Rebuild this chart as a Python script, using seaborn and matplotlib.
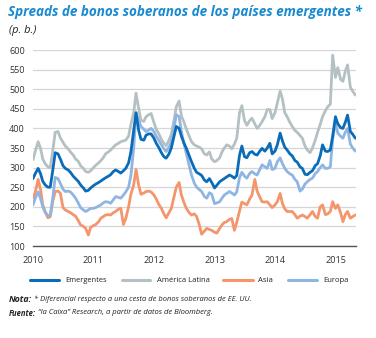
import numpy as np
import pandas as pd
import matplotlib
matplotlib.use("Agg")
import matplotlib.pyplot as plt
import matplotlib.dates as mdates
from matplotlib.lines import Line2D
import seaborn as sns

# semi-monthly observations (1st and 15th), Jan 2010 .. 1 May 2015
dates = pd.date_range("2010-01-01", "2015-05-01", freq="SMS")

emergentes = [
    272, 285, 298, 285, 265, 256, 250, 250, 295, 338, 335, 322, 305, 298, 294, 288, 278, 272, 265, 256, 248, 240, 242, 248,
    254, 258, 262, 266, 270, 274, 278, 282, 290, 294, 290, 286, 292, 298, 312, 340, 395, 440, 395, 372, 370, 383, 386, 386,
    375, 362, 350, 338, 328, 324, 335, 350, 380, 405, 400, 380, 362, 349, 330, 315, 298, 288, 284, 280, 268, 264, 272, 262,
    248, 255, 264, 268, 272, 276, 281, 278, 273, 280, 332, 355, 328, 325, 338, 341, 334, 332, 342, 349, 342, 350, 362, 335,
    342, 358, 388, 368, 352, 345, 335, 330, 318, 314, 302, 298, 283, 282, 288, 292, 305, 310, 330, 358, 342, 341, 345, 380,
    430, 412, 402, 400, 415, 434, 392, 385, 375]
america_latina = [
    320, 342, 366, 350, 322, 310, 302, 300, 345, 390, 392, 376, 365, 355, 348, 340, 332, 322, 316, 305, 298, 290, 288, 292,
    300, 306, 312, 318, 325, 335, 340, 345, 352, 358, 362, 366, 368, 370, 380, 410, 440, 490, 450, 420, 418, 430, 435, 438,
    415, 398, 385, 372, 362, 356, 370, 385, 420, 455, 470, 432, 415, 398, 380, 366, 358, 355, 352, 348, 335, 332, 340, 322,
    315, 318, 325, 340, 350, 358, 355, 348, 360, 375, 440, 458, 420, 408, 420, 426, 412, 400, 408, 417, 430, 448, 448, 425,
    440, 465, 495, 475, 440, 430, 415, 405, 395, 390, 382, 375, 355, 345, 338, 350, 370, 390, 410, 430, 445, 455, 462, 587,
    530, 555, 525, 520, 545, 562, 505, 495, 485]
asia = [
    222, 238, 270, 245, 205, 188, 172, 175, 215, 239, 240, 235, 198, 192, 188, 185, 180, 176, 165, 154, 150, 145, 128, 148,
    152, 155, 162, 171, 175, 179, 180, 179, 185, 188, 194, 196, 155, 170, 200, 232, 256, 295, 255, 232, 235, 239, 240, 238,
    230, 220, 205, 196, 182, 172, 185, 196, 225, 250, 262, 230, 210, 196, 185, 179, 182, 175, 154, 130, 138, 145, 142, 140,
    135, 133, 145, 154, 160, 162, 168, 170, 140, 160, 190, 212, 208, 205, 220, 230, 270, 240, 225, 213, 212, 213, 205, 198,
    205, 213, 234, 208, 195, 188, 188, 188, 180, 171, 176, 179, 175, 171, 180, 188, 175, 171, 200, 205, 180, 182, 188, 213,
    196, 205, 185, 162, 180, 188, 171, 175, 179]
europa = [
    205, 222, 238, 222, 200, 186, 178, 178, 225, 275, 272, 260, 245, 239, 240, 238, 230, 222, 210, 198, 192, 188, 192, 196,
    196, 198, 202, 205, 210, 213, 212, 209, 218, 226, 224, 222, 230, 238, 250, 280, 350, 440, 420, 405, 398, 392, 396, 400,
    392, 380, 368, 358, 348, 341, 352, 366, 400, 435, 430, 392, 360, 335, 305, 281, 260, 250, 244, 239, 226, 222, 236, 232,
    208, 210, 213, 222, 230, 234, 239, 235, 230, 238, 275, 288, 278, 273, 285, 290, 284, 281, 295, 307, 302, 298, 318, 295,
    298, 315, 325, 310, 298, 290, 284, 281, 270, 264, 240, 245, 258, 264, 270, 273, 285, 290, 300, 307, 298, 298, 302, 372,
    415, 388, 380, 375, 390, 400, 360, 350, 342]

series_names = ["Emergentes", "América Latina", "Asia", "Europa"]
colors = ["#0a6cb8", "#b4c0c3", "#f4956b", "#8fb5e3"]
yticks = [100, 150, 200, 250, 300, 350, 400, 450, 500, 550, 600]

df = pd.DataFrame({"fecha": dates, "Emergentes": emergentes,
                   "América Latina": america_latina, "Asia": asia, "Europa": europa})
long = df.melt(id_vars="fecha", var_name="serie", value_name="pb")

sns.set_style("white")
plt.rcParams["font.family"] = ["Open Sans", "DejaVu Sans"]

W, H = 376, 338
fig = plt.figure(figsize=(W/100, H/100), dpi=100)
ax = fig.add_axes([33/W, 1-246/H, 323/W, 196/H])

palette = dict(zip(series_names, colors))
order = ["América Latina", "Asia", "Europa", "Emergentes"]
for name in order:
    sub = long[long["serie"] == name]
    sns.lineplot(data=sub, x="fecha", y="pb", color=palette[name], lw=2.0,
                 ax=ax, legend=False)

ax.set_ylim(100, 600)
ax.set_xlim(pd.Timestamp("2010-01-01"), pd.Timestamp("2015-05-05"))
ax.set_yticks(yticks)
ax.yaxis.grid(True, color="#d6d6d6", lw=0.9)
ax.set_axisbelow(True)
ax.xaxis.set_major_locator(mdates.YearLocator())
ax.xaxis.set_major_formatter(mdates.DateFormatter("%Y"))
for s in ["top", "right", "left"]:
    ax.spines[s].set_visible(False)
ax.spines["bottom"].set_color("#555555")
ax.spines["bottom"].set_linewidth(1.0)
ax.tick_params(axis="x", direction="in", length=3, color="#555555",
               labelsize=6.6, pad=7, labelcolor="#333333")
ax.tick_params(axis="y", length=0, labelsize=6.6, pad=5.8, labelcolor="#333333")
ax.set_xlabel("")
ax.set_ylabel("")

fig.canvas.draw()
renderer = fig.canvas.get_renderer()


def fit(t, width_px):
    bb = t.get_window_extent(renderer)
    t.set_fontsize(t.get_fontsize() * width_px / bb.width)


def px(x, y):
    return x / W, 1 - y / H


title = fig.text(*px(8, 16), "Spreads de bonos soberanos de los países emergentes *",
                 color="#1a8ad0", fontsize=10, fontweight="bold", style="italic",
                 va="baseline", ha="left")
fit(title, 357)
unit = fig.text(*px(9, 33), "(p. b.)", color="#222222", fontsize=8,
                style="italic", va="baseline", ha="left")
fit(unit, 27)

# legend drawn at fixed positions
leg_items = [(30, 59, 65, 42), (122, 150, 157, 53), (223, 253, 258, 15), (288, 317, 323, 26)]
for (x0, x1, xt, tw), name, col in zip(leg_items, series_names, colors):
    fig.add_artist(Line2D([x0/W, x1/W], [1-280/H, 1-280/H], color=col, lw=2.2,
                          transform=fig.transFigure))
    t = fig.text(*px(xt, 280), name, fontsize=7, va="center", ha="left", color="#222222")
    fit(t, tw)

note_fs = 6.0
b1 = fig.text(*px(9, 299), "Nota:", fontsize=note_fs, fontweight="bold",
              style="italic", va="center", ha="left", color="#222222")
fit(b1, 23)
r1 = fig.text(*px(34, 299), "* Diferencial respecto a una cesta de bonos soberanos de EE. UU.",
              fontsize=note_fs, style="italic", va="center", ha="left", color="#222222")
fit(r1, 218)
b2 = fig.text(*px(9, 313), "Fuente:", fontsize=note_fs, fontweight="bold",
              style="italic", va="center", ha="left", color="#222222")
fit(b2, 27)
r2 = fig.text(*px(38, 313), "“la Caixa” Research, a partir de datos de Bloomberg.",
              fontsize=note_fs, style="italic", va="center", ha="left", color="#222222")
fit(r2, 178)

fig.savefig("out.png", dpi=100)
